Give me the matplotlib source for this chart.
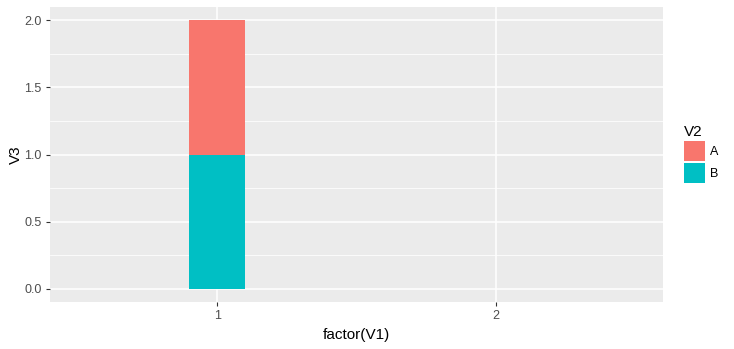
import matplotlib
matplotlib.rcParams["font.family"] = ["Liberation Sans", "DejaVu Sans"]
import matplotlib.pyplot as plt
import numpy as np
from matplotlib.patches import Patch

# stacked counts per factor(V1) level
categories = ["1", "2"]
v3_b = [1.0, 0.0]
v3_a = [1.0, 0.0]
groups = ["A", "B"]
colors = {"A": "#F8766D", "B": "#00BFC4"}

fig = plt.figure(figsize=(7.34, 3.49), dpi=100)
ax = fig.add_axes([50 / 734, 47 / 349, 613 / 734, 295 / 349])
ax.set_facecolor("#EBEBEB")

x = np.arange(1, len(categories) + 1)
ax.bar(x, v3_b, width=0.2, color=colors["B"], zorder=3)
ax.bar(x, v3_a, width=0.2, bottom=v3_b, color=colors["A"], zorder=3)

ax.set_xlim(0.4, 2.6)
ax.set_ylim(-0.1, 2.1)
ax.set_xticks(x)
ax.set_xticklabels(categories)
ax.set_yticks([0.0, 0.5, 1.0, 1.5, 2.0])
ax.set_yticklabels(["0.0", "0.5", "1.0", "1.5", "2.0"])
ax.set_yticks([0.25, 0.75, 1.25, 1.75], minor=True)

ax.grid(which="major", color="white", linewidth=1.1, zorder=0)
ax.grid(which="minor", axis="y", color="white", linewidth=0.55, zorder=0)
ax.set_axisbelow(True)
for s in ax.spines.values():
    s.set_visible(False)
ax.tick_params(which="major", length=3, width=0.8, color="#333333",
               labelcolor="#4D4D4D", labelsize=9, pad=3)
ax.tick_params(which="minor", length=0)

ax.set_xlabel("factor(V1)", fontsize=11, labelpad=4)
ax.set_ylabel("V3", fontsize=11, labelpad=1)

handles = [Patch(facecolor=colors[g], edgecolor="none") for g in groups]
leg = fig.legend(handles, groups, title="V2", loc="upper left",
                 bbox_to_anchor=(684 / 734, 1 - 125 / 349), frameon=False,
                 fontsize=9, title_fontsize=11, handlelength=1.7,
                 handleheight=2.0, handletextpad=0.35, labelspacing=0.2,
                 borderaxespad=0, borderpad=0, alignment="left")

fig.savefig("out.png", dpi=100)
